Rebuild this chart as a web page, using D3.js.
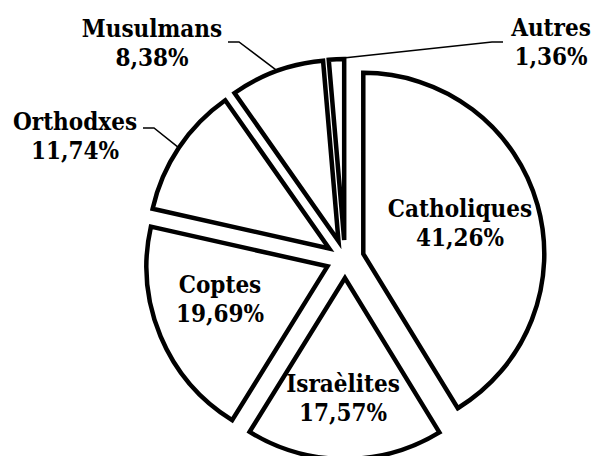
<!DOCTYPE html>
<html>
<head>
<meta charset="utf-8">
<script src="https://cdn.jsdelivr.net/npm/d3@7"></script>
<style>
  body { margin: 0; background: #fff; }
  text { font-family: "DejaVu Serif Condensed", "DejaVu Serif", serif; font-weight: bold; font-size: 24px; fill: #000; }
</style>
</head>
<body>
<svg id="pie" width="591" height="456"></svg>
<script>
// Data
var categories = ["Catholiques", "Israèlites", "Coptes", "Orthodxes", "Musulmans", "Autres"];
var shares = [41.26, 17.57, 19.69, 11.74, 8.38, 1.36];
var shareLabels = ["41,26%", "17,57%", "19,69%", "11,74%", "8,38%", "1,36%"];

// Layout
var width = 591, height = 456;
var cx = 345, cy = 259;
var radius = 181;
var explode = 19;
var lineGap = 28.5;

// label centre x, first baseline y
var labelPos = [[460, 217], [343, 392], [220, 293], [75, 130], [152, 37], [551, 36]];
// leader start (x, y, elbow direction, where on the slice edge 0..1) for outside labels
var leaders = [null, null, null, [143, 128, 1, 0.5], [228, 42, 1, 0.5], [503, 42, -1, 0.95]];

var svg = d3.select("#pie");

var pie = d3.pie().sort(null).value(function(d) { return d; });
var arcs = pie(shares);

var arc = d3.arc().innerRadius(0).outerRadius(radius);

var g = svg.append("g").attr("transform", "translate(" + cx + "," + cy + ")");

function offsetOf(d) {
    var a = (d.startAngle + d.endAngle) / 2;
    return [explode * Math.sin(a), -explode * Math.cos(a)];
}

g.selectAll("path.slice")
    .data(arcs)
    .enter()
    .append("path")
    .attr("class", "slice")
    .attr("d", arc)
    .attr("transform", function(d) {
        var o = offsetOf(d);
        return "translate(" + o[0] + "," + o[1] + ")";
    })
    .style("fill", "#fff")
    .style("stroke", "#000")
    .style("stroke-width", 4.5)
    .style("stroke-linejoin", "miter");

// Leader lines
arcs.forEach(function(d, i) {
    if (!leaders[i]) return;
    var s = leaders[i];
    var o = offsetOf(d);
    var a = d.startAngle + (d.endAngle - d.startAngle) * s[3];
    var ex = cx + o[0] + (radius + 1) * Math.sin(a);
    var ey = cy + o[1] - (radius + 1) * Math.cos(a);
    svg.append("polyline")
        .attr("points", [[s[0], s[1]], [s[0] + 11 * s[2], s[1]], [ex, ey]].map(function(p) { return p.join(","); }).join(" "))
        .style("fill", "none")
        .style("stroke", "#000")
        .style("stroke-width", 1.5);
});

// Labels
var labels = svg.selectAll("g.label")
    .data(categories)
    .enter()
    .append("g")
    .attr("class", "label");

labels.append("text")
    .attr("x", function(d, i) { return labelPos[i][0]; })
    .attr("y", function(d, i) { return labelPos[i][1]; })
    .attr("text-anchor", "middle")
    .text(function(d) { return d; });

labels.append("text")
    .attr("x", function(d, i) { return labelPos[i][0]; })
    .attr("y", function(d, i) { return labelPos[i][1] + lineGap; })
    .attr("text-anchor", "middle")
    .text(function(d, i) { return shareLabels[i]; });
</script>
</body>
</html>
